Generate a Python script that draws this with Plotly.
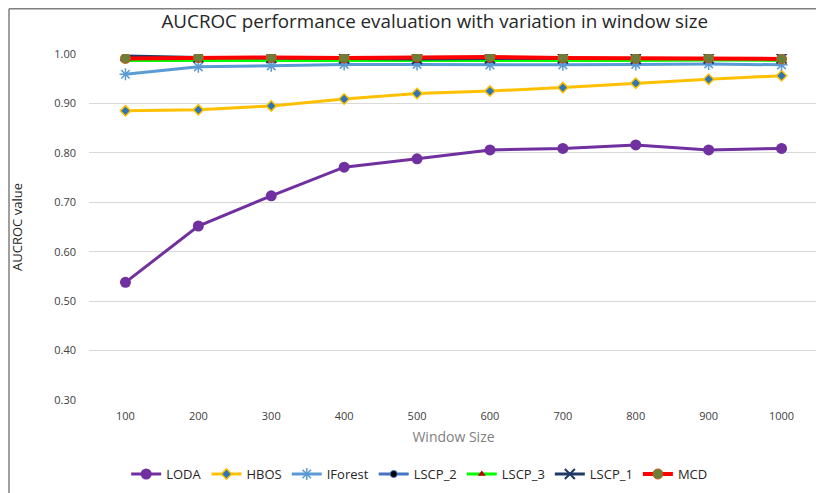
import plotly.graph_objects as go

window_sizes = ["100", "200", "300", "400", "500", "600", "700", "800", "900", "1000"]

loda = [0.538, 0.652, 0.713, 0.771, 0.788, 0.806, 0.809, 0.816, 0.806, 0.809]
hbos = [0.885, 0.887, 0.895, 0.909, 0.920, 0.925, 0.932, 0.941, 0.949, 0.956]
iforest = [0.959, 0.974, 0.976, 0.979, 0.979, 0.978, 0.978, 0.979, 0.980, 0.978]
lscp_2 = [0.992, 0.990, 0.990, 0.989, 0.989, 0.989, 0.989, 0.989, 0.990, 0.989]
lscp_3 = [0.987, 0.987, 0.987, 0.986, 0.986, 0.987, 0.987, 0.987, 0.988, 0.987]
lscp_1 = [0.996, 0.993, 0.992, 0.991, 0.990, 0.991, 0.991, 0.990, 0.991, 0.991]
mcd = [0.991, 0.993, 0.993, 0.992, 0.994, 0.994, 0.992, 0.991, 0.992, 0.990]

y_ticks = [0.30, 0.40, 0.50, 0.60, 0.70, 0.80, 0.90, 1.00]

series = [
    ("LODA", loda, "#7030A0", 3, dict(symbol="circle", size=11, color="#7030A0")),
    ("HBOS", hbos, "#FFC000", 3, dict(symbol="diamond", size=8, color="#2E75B6",
                                       line=dict(color="#FFC000", width=1.5))),
    ("IForest", iforest, "#5B9BD5", 3, dict(symbol="asterisk", size=10,
                                             line=dict(color="#5B9BD5", width=1.5))),
    ("LSCP_2", lscp_2, "#4472C4", 3, dict(symbol="circle", size=7, color="#000000",
                                           line=dict(color="#4472C4", width=1))),
    ("LSCP_3", lscp_3, "#00FF00", 3, dict(symbol="triangle-up", size=7, color="#C00000")),
    ("LSCP_1", lscp_1, "#1F3864", 3, dict(symbol="x-thin", size=10,
                                           line=dict(color="#1F3864", width=2))),
    ("MCD", mcd, "#FF0000", 4, dict(symbol="circle", size=10, color="#6B7F3A",
                                     line=dict(color="#C55A11", width=1))),
]

fig = go.Figure()
for name, vals, col, w, mk in series:
    fig.add_trace(go.Scatter(x=window_sizes, y=vals, name=name, mode="lines+markers",
                             line=dict(color=col, width=w), marker=mk))

# page body has an 8px margin, so the figure is offset by (8, 8) in the screenshot
fig.update_layout(
    width=824, height=493,
    margin=dict(l=81, r=14, t=46, b=101),
    paper_bgcolor="white", plot_bgcolor="white",
    font=dict(family="Open Sans, Liberation Sans, sans-serif", color="#595959", size=11),
    title=dict(text="AUCROC performance evaluation with variation in window size",
               x=0.518, xanchor="center", y=0.972, yanchor="middle",
               font=dict(size=18.8, color="#262626")),
    xaxis=dict(type="category", range=[-0.5, 9.5], showgrid=False, showline=False,
               ticks="", automargin=False, ticklabelstandoff=8,
               title=dict(text="Window Size", font=dict(size=14, color="#808080"), standoff=10),
               tickfont=dict(size=11, color="#404040")),
    yaxis=dict(range=[0.30, 1.0], tickvals=y_ticks, tickformat=".2f", automargin=False,
               showgrid=True, gridcolor="#D9D9D9", gridwidth=1, zeroline=False,
               showline=False, ticks="", ticklabelstandoff=12,
               title=dict(text="AUCROC value", font=dict(size=13, color="#262626"), standoff=30),
               tickfont=dict(size=11, color="#404040")),
    legend=dict(orientation="h", x=0.4536, xanchor="center", y=-0.214, yanchor="middle",
                font=dict(size=13, color="#262626"), itemwidth=30, tracegroupgap=0),
    showlegend=True,
)

fx = (1 - 81) / 729
fy = (392 - 0.75) / 346
fig.add_shape(type="line", xref="paper", yref="paper",
              x0=fx, x1=fx, y0=fy, y1=(392 - 500) / 346,
              line=dict(color="#7F7F7F", width=1.5))
fig.add_shape(type="line", xref="paper", yref="paper",
              x0=fx, x1=(830 - 81) / 729, y0=fy, y1=fy,
              line=dict(color="#7F7F7F", width=1.5))

fig.write_html("out.html")
